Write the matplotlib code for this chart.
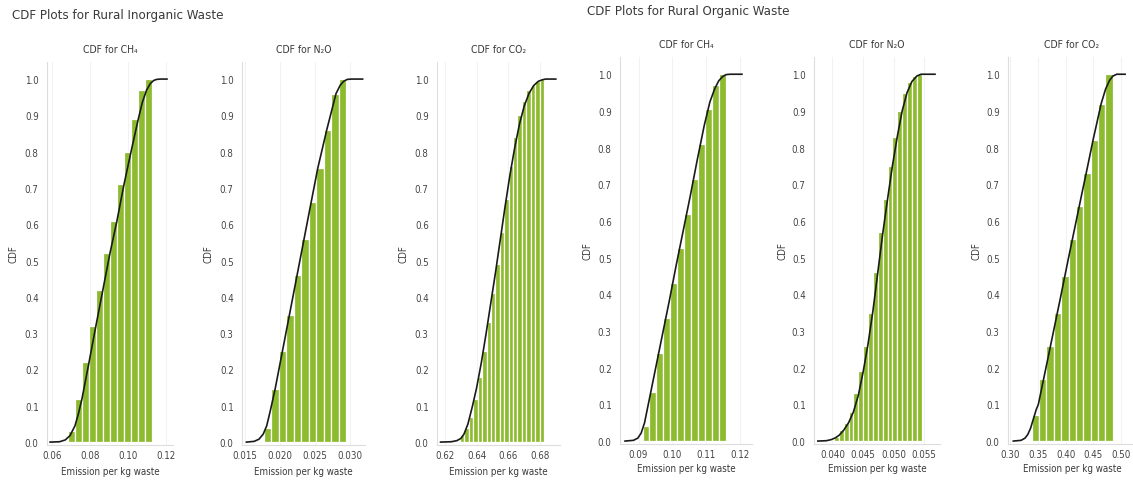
import numpy as np
import matplotlib
matplotlib.use('Agg')
import matplotlib.pyplot as plt

plt.rcParams['font.family'] = ['DejaVu Sans']
plt.rcParams['font.stretch'] = 'condensed'

# ---- data ----
# rural inorganic waste
ch4_in_bins = (0.0684, 0.1126)
ch4_in_cum = [0.03, 0.12, 0.22, 0.32, 0.42, 0.52, 0.61, 0.71, 0.80, 0.89, 0.97, 1.0]
ch4_in_cx = [0.0590, 0.0640, 0.0670, 0.0695, 0.0721, 0.0740, 0.0758, 0.0795, 0.0831, 0.0868, 0.0905,
             0.0942, 0.0979, 0.1016, 0.1052, 0.1075, 0.1098, 0.1118, 0.1135, 0.1150, 0.1170, 0.1205]
ch4_in_cy = [0.000, 0.001, 0.006, 0.018, 0.045, 0.080, 0.120, 0.220, 0.320, 0.420, 0.520,
             0.610, 0.710, 0.800, 0.885, 0.935, 0.970, 0.988, 0.996, 0.999, 1.000, 1.000]

n2o_in_bins = (0.01771, 0.02943)
n2o_in_cum = [0.04, 0.145, 0.25, 0.35, 0.46, 0.56, 0.66, 0.755, 0.86, 0.96, 1.0]
n2o_in_cx = [0.0152, 0.0163, 0.0170, 0.0176, 0.0181, 0.0186, 0.0193, 0.0203, 0.0213, 0.0224,
             0.0234, 0.0244, 0.0254, 0.0267, 0.0280, 0.0286, 0.0291, 0.0296, 0.0302, 0.0318]
n2o_in_cy = [0.000, 0.002, 0.008, 0.022, 0.045, 0.085, 0.146, 0.246, 0.346, 0.456,
             0.556, 0.656, 0.755, 0.862, 0.960, 0.983, 0.994, 0.999, 1.000, 1.000]

co2_in_bins = (0.6295, 0.6825)
co2_in_cum = [0.02, 0.04, 0.07, 0.12, 0.18, 0.25, 0.33, 0.41, 0.49, 0.58, 0.67, 0.76, 0.84,
              0.90, 0.94, 0.97, 0.985, 0.995, 1.0]
co2_in_cx = [0.6172, 0.6240, 0.6275, 0.6300, 0.6320, 0.6345, 0.6374, 0.6400, 0.6430, 0.6460, 0.6490,
             0.6520, 0.6550, 0.6580, 0.6610, 0.6640, 0.6670, 0.6700, 0.6730, 0.6760, 0.6790, 0.6815,
             0.6835, 0.6860, 0.6900]
co2_in_cy = [0.000, 0.001, 0.004, 0.010, 0.022, 0.050, 0.100, 0.150, 0.220, 0.300, 0.385,
             0.470, 0.560, 0.650, 0.735, 0.810, 0.875, 0.925, 0.960, 0.982, 0.994, 0.998,
             1.000, 1.000, 1.000]

# rural organic waste
ch4_org_bins = (0.0912, 0.1159)
ch4_org_cum = [0.04, 0.135, 0.24, 0.335, 0.43, 0.525, 0.62, 0.715, 0.81, 0.905, 0.97, 1.0]
ch4_org_cx = [0.0860, 0.0885, 0.0898, 0.0908, 0.0918, 0.0929, 0.0950, 0.0971, 0.0992, 0.1012, 0.1033,
              0.1054, 0.1074, 0.1095, 0.1112, 0.1126, 0.1138, 0.1150, 0.1160, 0.1172, 0.1207]
ch4_org_cy = [0.000, 0.002, 0.008, 0.022, 0.050, 0.100, 0.195, 0.290, 0.385, 0.480, 0.575,
              0.670, 0.765, 0.860, 0.925, 0.960, 0.982, 0.994, 0.999, 1.000, 1.000]

n2o_org_bins = (0.04025, 0.05462)
n2o_org_cum = [0.01, 0.03, 0.05, 0.08, 0.13, 0.19, 0.26, 0.35, 0.46, 0.57, 0.66, 0.75, 0.83,
               0.90, 0.95, 0.98, 0.995, 1.0]
n2o_org_cx = [0.0376, 0.0390, 0.0398, 0.0405, 0.0411, 0.04185, 0.04264, 0.04344, 0.04424, 0.04504,
              0.04583, 0.04663, 0.04743, 0.04823, 0.04903, 0.04982, 0.05062, 0.05142, 0.05222,
              0.05301, 0.05381, 0.0545, 0.0568]
n2o_org_cy = [0.000, 0.001, 0.004, 0.009, 0.016, 0.030, 0.050, 0.080, 0.125, 0.190,
              0.265, 0.355, 0.460, 0.565, 0.660, 0.750, 0.830, 0.900, 0.950,
              0.980, 0.995, 1.000, 1.000]

co2_org_bins = (0.339, 0.4847)
co2_org_cum = [0.07, 0.17, 0.26, 0.35, 0.45, 0.55, 0.64, 0.73, 0.82, 0.92, 1.0]
co2_org_cx = [0.3060, 0.3200, 0.3270, 0.3320, 0.3370, 0.3420, 0.3470, 0.3510, 0.3640, 0.3770, 0.3900,
              0.4040, 0.4170, 0.4300, 0.4370, 0.4500, 0.4640, 0.4720, 0.4790, 0.4850, 0.4920, 0.5070]
co2_org_cy = [0.000, 0.002, 0.008, 0.018, 0.035, 0.060, 0.085, 0.100, 0.195, 0.290, 0.385,
              0.490, 0.585, 0.680, 0.730, 0.825, 0.920, 0.960, 0.983, 0.995, 1.000, 1.000]

titles = ['CDF for CH\u2084', 'CDF for N\u2082O', 'CDF for CO\u2082']
y_ticks = [0.0, 0.1, 0.2, 0.3, 0.4, 0.5, 0.6, 0.7, 0.8, 0.9, 1.0]

W, H = 1133, 481
GREEN = '#8dbb2f'
TXT = '#3a3a3a'

fig = plt.figure(figsize=(W / 100, H / 100), dpi=100)

# bins, cum, curve x, curve y, xlim, xticks, label format, pixel box (left, right, top, bottom)
panels = [
    (ch4_in_bins, ch4_in_cum, ch4_in_cx, ch4_in_cy, (0.05737, 0.12368),
     [0.06, 0.08, 0.10, 0.12], '%.2f', (47, 173, 63, 446)),
    (n2o_in_bins, n2o_in_cum, n2o_in_cx, n2o_in_cy, (0.01457, 0.03214),
     [0.015, 0.020, 0.025, 0.030], '%.3f', (242, 365, 63, 446)),
    (co2_in_bins, co2_in_cum, co2_in_cx, co2_in_cy, (0.61495, 0.69265),
     [0.62, 0.64, 0.66, 0.68], '%.2f', (437, 560, 63, 446)),
    (ch4_org_bins, ch4_org_cum, ch4_org_cx, ch4_org_cy, (0.08451, 0.12368),
     [0.09, 0.10, 0.11, 0.12], '%.2f', (620, 752, 58, 445)),
    (n2o_org_bins, n2o_org_cum, n2o_org_cx, n2o_org_cy, (0.03697, 0.05762),
     [0.040, 0.045, 0.050, 0.055], '%.3f', (814, 940, 58, 445)),
    (co2_org_bins, co2_org_cum, co2_org_cx, co2_org_cy, (0.29640, 0.52662),
     [0.30, 0.35, 0.40, 0.45, 0.50], '%.2f', (1008, 1136, 58, 445)),
]

for i, (bins, cum, cx, cy, xlim, xt, fmt, box) in enumerate(panels):
    l, r, t, b = box
    ax = fig.add_axes([l / W, 1 - b / H, (r - l) / W, (b - t) / H])
    edges = np.linspace(bins[0], bins[1], len(cum) + 1)
    ax.bar(edges[:-1], cum, width=np.diff(edges), align='edge', color=GREEN,
           edgecolor='white', linewidth=0.9, zorder=2)
    ax.plot(cx, cy, color='#1a1a1a', linewidth=1.2, zorder=3)

    ax.set_xlim(*xlim)
    ax.set_ylim(-0.008, 1.047)
    ax.set_xticks(xt)
    ax.set_xticklabels([fmt % v for v in xt])
    ax.set_yticks(y_ticks)
    ax.set_yticklabels(['%.1f' % v for v in y_ticks])
    ax.tick_params(length=0, labelsize=7, colors='#454545')
    ax.tick_params(axis='y', pad=6)
    ax.tick_params(axis='x', pad=3.5)
    ax.grid(axis='x', color='#f2f2f2', linewidth=0.8, zorder=0)
    for s in ['top', 'right']:
        ax.spines[s].set_visible(False)
    for s in ['left', 'bottom']:
        ax.spines[s].set_color('#dddddd')
        ax.spines[s].set_linewidth(0.8)

    ax.set_title(titles[i % 3], fontsize=7.5, color=TXT, pad=7)
    ax.set_ylabel('CDF', fontsize=7, color=TXT)
    ax.yaxis.set_label_coords(-0.23 if i < 3 else -0.21, 0.5)
    ax.set_xlabel('Emission per kg waste', fontsize=7, color=TXT)
    ax.xaxis.set_label_coords(0.5, -0.055 if i < 3 else -0.05)

fig.text(12 / W, 1 - 15 / H, 'CDF Plots for Rural Inorganic Waste', fontsize=9.5,
         color=TXT, ha='left', va='center')
fig.text(587 / W, 1 - 12 / H, 'CDF Plots for Rural Organic Waste', fontsize=9.5,
         color=TXT, ha='left', va='center')

fig.savefig('out.png', dpi=100)
